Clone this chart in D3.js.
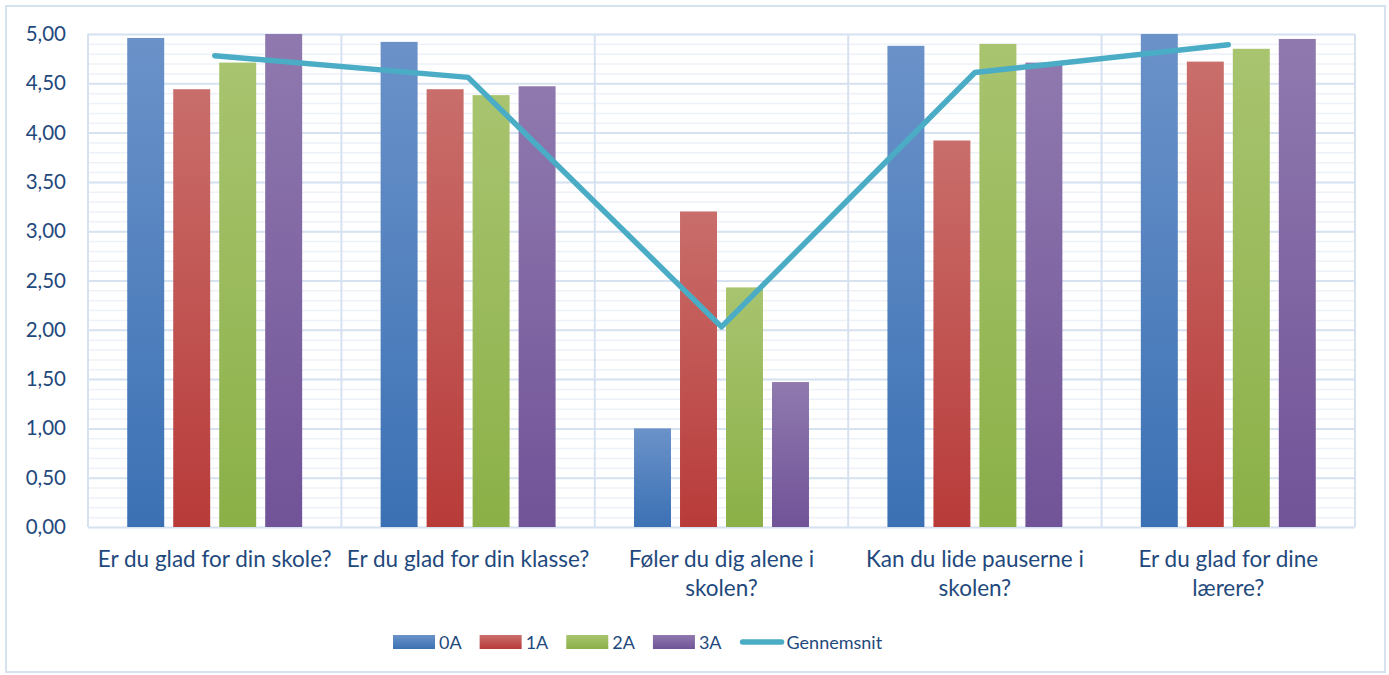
<!DOCTYPE html>
<html>
<head>
<meta charset="utf-8">
<script src="https://cdn.jsdelivr.net/npm/d3@7"></script>
<style>
  body { margin: 0; background: #fff; }
  text { font-family: Lato, "Noto Sans", sans-serif; fill: #1f497d; }
</style>
</head>
<body>
<div id="chart"></div>
<script>
const categories = [
  "Er du glad for din skole?",
  "Er du glad for din klasse?",
  "Føler du dig alene i\nskolen?",
  "Kan du lide pauserne i\nskolen?",
  "Er du glad for dine\nlærere?",
];
const seriesNames = ["0A", "1A", "2A", "3A"];
const values0A = [4.96, 4.92, 1.0, 4.88, 5.0];
const values1A = [4.44, 4.44, 3.2, 3.92, 4.72];
const values2A = [4.71, 4.38, 2.43, 4.9, 4.85];
const values3A = [5.0, 4.47, 1.47, 4.71, 4.95];
const average = [4.78, 4.56, 2.03, 4.61, 4.89];
const lineName = "Gennemsnit";
const yTicks = [0, 0.5, 1, 1.5, 2, 2.5, 3, 3.5, 4, 4.5, 5];

const seriesValues = [values0A, values1A, values2A, values3A];
const colors = [
  { top: "#6b92c9", bottom: "#3b71b4" },
  { top: "#c96e6b", bottom: "#b83b39" },
  { top: "#a8c46f", bottom: "#8bb047" },
  { top: "#8f79ae", bottom: "#715398" },
];
const lineColor = "#4bacc6";
const gridMajor = "#d7e2f1";
const gridMinor = "#edf2f9";

const W = 1389, H = 675;
const margin = { left: 88, right: 34, top: 34, bottom: 148 };
const innerW = W - margin.left - margin.right;
const innerH = H - margin.top - margin.bottom;

const fmt = d3.formatLocale({ decimal: ",", thousands: ".", grouping: [3], currency: ["", ""] }).format(".2f");

const svg = d3.select("#chart").append("svg").attr("width", W).attr("height", H);

// gradients for bars
const defs = svg.append("defs");
colors.forEach((c, i) => {
  const g = defs.append("linearGradient")
    .attr("id", "grad" + i)
    .attr("x1", 0).attr("y1", 0).attr("x2", 0).attr("y2", 1);
  g.append("stop").attr("offset", "0%").attr("stop-color", c.top);
  g.append("stop").attr("offset", "100%").attr("stop-color", c.bottom);
});

// outer frame
svg.append("rect")
  .attr("x", 6).attr("y", 6).attr("width", 1379).attr("height", 666)
  .attr("fill", "none").attr("stroke", gridMajor).attr("stroke-width", 2);

const g = svg.append("g").attr("transform", `translate(${margin.left},${margin.top})`);

const x0 = d3.scaleBand().domain(categories).range([0, innerW]).padding(0);
const x1 = d3.scaleBand().domain(seriesNames).range([0, x0.bandwidth()])
  .paddingInner(0.196).paddingOuter(0.853);
const y = d3.scaleLinear().domain([0, 5]).range([innerH, 0]);

// minor grid
g.append("g")
  .call(d3.axisLeft(y).tickValues(d3.range(0, 51).map((d) => d / 10)).tickSize(-innerW).tickFormat(""))
  .call((s) => s.select(".domain").remove())
  .call((s) => s.selectAll("line").attr("stroke", gridMinor).attr("stroke-width", 1.5));

// major grid
g.append("g")
  .call(d3.axisLeft(y).tickValues(yTicks).tickSize(-innerW).tickFormat(""))
  .call((s) => s.select(".domain").remove())
  .call((s) => s.selectAll("line").attr("stroke", gridMajor).attr("stroke-width", 2));

// vertical category separators
g.append("g")
  .selectAll("line")
  .data(categories.concat(["end"]))
  .join("line")
  .attr("x1", (d, i) => (i < categories.length ? x0(d) : innerW))
  .attr("x2", (d, i) => (i < categories.length ? x0(d) : innerW))
  .attr("y1", 0).attr("y2", innerH)
  .attr("stroke", gridMajor).attr("stroke-width", 2);

// y labels
g.append("g")
  .call(d3.axisLeft(y).tickValues(yTicks).tickSize(0).tickPadding(22).tickFormat(fmt))
  .call((s) => s.select(".domain").remove())
  .call((s) => s.selectAll("text").attr("font-size", 20.5).attr("fill", "#1f497d"));

// bars
const groups = g.append("g")
  .selectAll("g")
  .data(categories)
  .join("g")
  .attr("transform", (d) => `translate(${x0(d)},0)`);

groups.selectAll("rect")
  .data((d, ci) => seriesNames.map((s, si) => ({ s, si, v: seriesValues[si][ci] })))
  .join("rect")
  .attr("x", (d) => x1(d.s))
  .attr("width", x1.bandwidth())
  .attr("y", (d) => y(d.v))
  .attr("height", (d) => innerH - y(d.v))
  .attr("fill", (d) => `url(#grad${d.si})`);

// x labels
const xl = g.append("g").attr("transform", `translate(0,${innerH})`);
categories.forEach((c) => {
  const t = xl.append("text")
    .attr("x", x0(c) + x0.bandwidth() / 2)
    .attr("text-anchor", "middle")
    .attr("font-size", 22.5);
  c.split("\n").forEach((line, i) => {
    t.append("tspan")
      .attr("x", x0(c) + x0.bandwidth() / 2)
      .attr("y", 40 + i * 29)
      .text(line);
  });
});

// average line
const line = d3.line()
  .x((d, i) => x0(categories[i]) + x0.bandwidth() / 2)
  .y((d) => y(d));
g.append("path")
  .datum(average)
  .attr("d", line)
  .attr("fill", "none")
  .attr("stroke", lineColor)
  .attr("stroke-width", 5.5)
  .attr("stroke-linejoin", "round")
  .attr("stroke-linecap", "round");

// legend
const legend = svg.append("g").attr("transform", "translate(393,642)");
let lx = 0;
seriesNames.forEach((s, i) => {
  legend.append("rect")
    .attr("x", lx).attr("y", -7).attr("width", 42).attr("height", 14)
    .attr("fill", `url(#grad${i})`);
  const t = legend.append("text")
    .attr("x", lx + 46).attr("y", 6.5)
    .attr("font-size", 18)
    .text(s);
  lx += 46 + t.node().getComputedTextLength() + 18;
});
legend.append("line")
  .attr("x1", lx + 3).attr("x2", lx + 42).attr("y1", 0).attr("y2", 0)
  .attr("stroke", lineColor).attr("stroke-width", 5.5).attr("stroke-linecap", "round");
legend.append("text")
  .attr("x", lx + 47).attr("y", 6.5)
  .attr("font-size", 18)
  .text(lineName);
</script>
</body>
</html>
